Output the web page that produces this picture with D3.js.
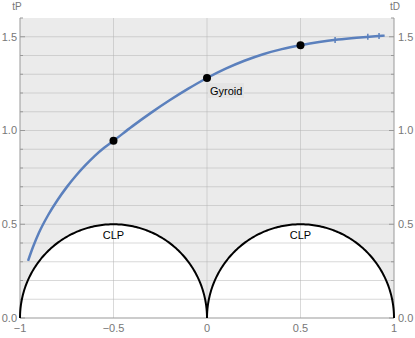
<!DOCTYPE html>
<html>
<head>
<meta charset="utf-8">
<script src="https://cdn.jsdelivr.net/npm/d3@7"></script>
<style>
  body { margin: 0; background: #fff; }
  svg { display: block; font-family: "Liberation Sans", Arial, sans-serif; }
</style>
</head>
<body>
<div class="container"></div>
<script>
// gyroid curve
const curveX = [-0.957, -0.93, -0.9, -0.85, -0.8, -0.75, -0.7, -0.65, -0.6, -0.55, -0.5, -0.4, -0.3, -0.2, -0.1, 0, 0.1, 0.2, 0.3, 0.4, 0.5, 0.6, 0.7, 0.8, 0.9, 0.95];
const curveY = [0.305, 0.38, 0.452, 0.548, 0.628, 0.698, 0.76, 0.815, 0.865, 0.908, 0.945, 1.022, 1.094, 1.161, 1.223, 1.28, 1.33, 1.372, 1.407, 1.434, 1.455, 1.472, 1.485, 1.495, 1.503, 1.506];
const pointX = [-0.5, 0, 0.5];
const pointY = [0.945, 1.28, 1.455];
const markX = [0.685, 0.86, 0.92];
const circleCx = [-0.5, 0.5];
const circleR = 0.5;
const xTicks = [-1, -0.5, 0, 0.5, 1];
const yTicks = [0, 0.5, 1, 1.5];

const width = 415, height = 338;
const x = d3.scaleLinear().domain([-1, 1]).range([20, 394]);
const y = d3.scaleLinear().domain([0, 1.6]).range([318, 18]);

let svg = d3.select(".container").append("svg")
  .attr("width", width)
  .attr("height", height);

// gray background of the plot
svg.append("rect")
  .attr("x", x(-1)).attr("y", y(1.6))
  .attr("width", x(1) - x(-1)).attr("height", y(0) - y(1.6))
  .attr("fill", "#ebebeb");

// semicircle paths
const semi = cx => {
  const pts = d3.range(0, 181).map(a => {
    const t = Math.PI - a * Math.PI / 180;
    return [x(cx + circleR * Math.cos(t)), y(circleR * Math.sin(t))];
  });
  return d3.line()(pts);
};

svg.selectAll("path.fillc")
  .data(circleCx)
  .enter().append("path")
  .attr("d", d => semi(d) + "Z")
  .attr("fill", "#fff");

// grid
const hGrid = d3.range(1, 16).map(i => i / 10);
svg.selectAll("line.hg").data(hGrid).enter().append("line")
  .attr("x1", x(-1)).attr("x2", x(1))
  .attr("y1", d => y(d)).attr("y2", d => y(d))
  .attr("stroke", "#b4b4b4").attr("stroke-opacity", 0.5).attr("stroke-width", 1);
svg.selectAll("line.vg").data([-0.5, 0, 0.5]).enter().append("line")
  .attr("x1", d => x(d)).attr("x2", d => x(d))
  .attr("y1", y(0)).attr("y2", y(1.6))
  .attr("stroke", "#b4b4b4").attr("stroke-opacity", 0.5).attr("stroke-width", 1);

// axes
const axisColor = "#999";
svg.append("line").attr("x1", x(-1)).attr("x2", x(-1)).attr("y1", y(0)).attr("y2", y(1.6))
  .attr("stroke", axisColor);
svg.append("line").attr("x1", x(1)).attr("x2", x(1)).attr("y1", y(0)).attr("y2", y(1.6))
  .attr("stroke", axisColor);
svg.append("line").attr("x1", x(-1)).attr("x2", x(1)).attr("y1", y(0)).attr("y2", y(0))
  .attr("stroke", axisColor);

const minor = d3.range(0, 17).map(i => i / 10);
svg.selectAll("line.lt").data(minor).enter().append("line")
  .attr("x1", x(-1)).attr("x2", d => x(-1) + (Math.round(d * 10) % 5 === 0 ? 5 : 3))
  .attr("y1", d => y(d)).attr("y2", d => y(d))
  .attr("stroke", axisColor);
svg.selectAll("line.rt").data(minor).enter().append("line")
  .attr("x1", x(1)).attr("x2", d => x(1) - (Math.round(d * 10) % 5 === 0 ? 5 : 3))
  .attr("y1", d => y(d)).attr("y2", d => y(d))
  .attr("stroke", axisColor);

const fmtY = d3.format(".1f");
const fmtX = d => d3.format("")(d).replace("-", "\u2212");
svg.selectAll("text.yl").data(yTicks).enter().append("text")
  .attr("x", x(-1) - 3).attr("y", d => y(d)).attr("dy", "0.35em")
  .attr("text-anchor", "end").attr("font-size", 11).attr("fill", "#777")
  .text(fmtY);
svg.selectAll("text.yr").data(yTicks).enter().append("text")
  .attr("x", x(1) + 4).attr("y", d => y(d)).attr("dy", "0.35em")
  .attr("text-anchor", "start").attr("font-size", 11).attr("fill", "#777")
  .text(fmtY);
svg.selectAll("text.xl").data(xTicks).enter().append("text")
  .attr("x", d => x(d)).attr("y", y(0) + 14)
  .attr("text-anchor", "middle").attr("font-size", 11).attr("fill", "#777")
  .text(fmtX);

svg.append("text").attr("x", 17).attr("y", 10).attr("text-anchor", "middle")
  .attr("font-size", 10).attr("fill", "#777").text("tP");
svg.append("text").attr("x", 395).attr("y", 10).attr("text-anchor", "middle")
  .attr("font-size", 10).attr("fill", "#777").text("tD");

// semicircle outlines
svg.selectAll("path.strokec")
  .data(circleCx)
  .enter().append("path")
  .attr("d", d => semi(d))
  .attr("fill", "none")
  .attr("stroke", "#000")
  .attr("stroke-width", 2);

svg.selectAll("text.clp").data(circleCx).enter().append("text")
  .attr("x", d => x(d)).attr("y", y(0.44)).attr("dy", "0.35em")
  .attr("text-anchor", "middle").attr("font-size", 11).attr("fill", "#000")
  .text("CLP");

// gyroid curve
const line = d3.line().x(d => x(d[0])).y(d => y(d[1])).curve(d3.curveMonotoneX);
svg.append("path")
  .attr("d", line(curveX.map((v, i) => [v, curveY[i]])))
  .attr("fill", "none")
  .attr("stroke", "#5b80bd")
  .attr("stroke-width", 2.5);

const curveAt = v => {
  const i = d3.bisectLeft(curveX, v);
  const t = (v - curveX[i - 1]) / (curveX[i] - curveX[i - 1]);
  return curveY[i - 1] + t * (curveY[i] - curveY[i - 1]);
};
svg.selectAll("line.mk").data(markX).enter().append("line")
  .attr("x1", d => x(d)).attr("x2", d => x(d))
  .attr("y1", d => y(curveAt(d)) - 3).attr("y2", d => y(curveAt(d)) + 3)
  .attr("stroke", "#5b80bd").attr("stroke-width", 1.5);

svg.selectAll("circle.pt").data(pointX).enter().append("circle")
  .attr("cx", d => x(d)).attr("cy", (d, i) => y(pointY[i]))
  .attr("r", 4).attr("fill", "#000");

// Gyroid label
svg.append("rect")
  .attr("x", x(0) + 1).attr("y", y(1.28) + 5)
  .attr("width", 36).attr("height", 15)
  .attr("fill", "#e4e4e4");
svg.append("text")
  .attr("x", x(0) + 3).attr("y", y(1.28) + 13).attr("dy", "0.35em")
  .attr("font-size", 11).attr("fill", "#000")
  .text("Gyroid");
</script>
</body>
</html>
